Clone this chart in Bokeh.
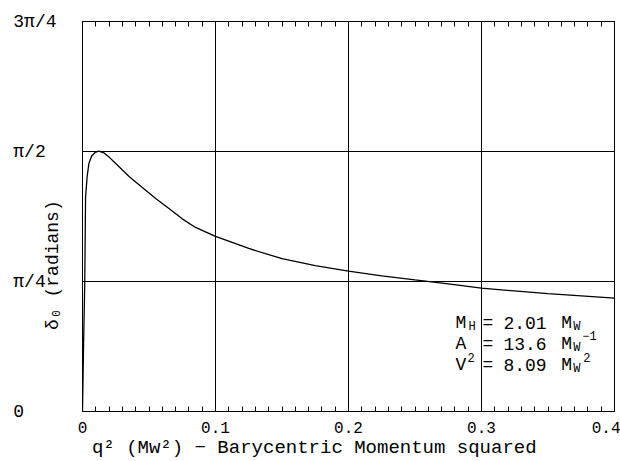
import numpy as np
from bokeh.plotting import figure
from bokeh.models import FixedTicker, LinearAxis, Label, Range1d
from bokeh.embed import file_html
from bokeh.resources import INLINE

PI = np.pi
NB = "\u00a0"

# ---- data ----
q2 = [0.0, 0.0008, 0.0017, 0.0023, 0.0035, 0.0048, 0.0070, 0.0095, 0.0123,
      0.0160, 0.0200, 0.0250, 0.0350, 0.0450, 0.0550, 0.0650, 0.0750, 0.0850,
      0.1000, 0.1250, 0.1500, 0.1750, 0.2000, 0.2250, 0.2500, 0.2750, 0.3000,
      0.3500, 0.4000]
delta0 = [0.0, 0.40, 0.785, 1.295, 1.420, 1.498, 1.545, 1.565, 1.573,
          1.563, 1.537, 1.498, 1.420, 1.353, 1.287, 1.226, 1.164, 1.112,
          1.058, 0.985, 0.923, 0.881, 0.848, 0.820, 0.795, 0.771, 0.745,
          0.712, 0.685]

x_ticks = [0.0, 0.1, 0.2, 0.3, 0.4]
x_tick_labels = ["0", "0.1", "0.2", "0.3", "0.4"]
x_minor = [0.00, 0.01, 0.02, 0.03, 0.04, 0.05, 0.06, 0.07, 0.08, 0.09,
           0.10, 0.11, 0.12, 0.13, 0.14, 0.15, 0.16, 0.17, 0.18, 0.19,
           0.20, 0.21, 0.22, 0.23, 0.24, 0.25, 0.26, 0.27, 0.28, 0.29,
           0.30, 0.31, 0.32, 0.33, 0.34, 0.35, 0.36, 0.37, 0.38, 0.39, 0.40]
y_ticks = [0.0, PI / 4, PI / 2, 3 * PI / 4]
y_tick_labels = ["0", "\u03c0/4", "\u03c0/2", "3\u03c0/4"]
grid_x = [0.1, 0.2, 0.3]
grid_y = [PI / 4, PI / 2]

x_title = "q\u00b2 (M\u1d21\u00b2) \u2212 Barycentric Momentum squared"
y_title = "\u03b4\u2080 (radians)"

FONT = "Liberation Mono"

p = figure(width=620, height=461,
           x_range=Range1d(0, 0.4), y_range=Range1d(0, 3 * PI / 4),
           output_backend="svg", toolbar_location=None,
           min_border_left=82, min_border_right=6,
           min_border_top=21, min_border_bottom=50,
           background_fill_color="white", border_fill_color="white",
           outline_line_color="black", outline_line_width=1)

p.line(q2, delta0, line_color="black", line_width=1.3)

# grid
p.xgrid.ticker = FixedTicker(ticks=grid_x)
p.ygrid.ticker = FixedTicker(ticks=grid_y)
for g in (p.xgrid, p.ygrid):
    g.grid_line_color = "black"
    g.grid_line_alpha = 1.0
    g.grid_line_width = 1

# bottom axis
xa = p.xaxis[0]
xa.ticker = FixedTicker(ticks=x_ticks, minor_ticks=x_minor)
xa.major_label_overrides = {t: s for t, s in zip(x_ticks, x_tick_labels)}
xa.axis_line_color = None
xa.major_tick_in = 6
xa.major_tick_out = 0
xa.minor_tick_in = 5
xa.minor_tick_out = 0
xa.major_tick_line_color = "black"
xa.minor_tick_line_color = "black"
xa.major_label_standoff = 10
xa.major_label_text_font = FONT
xa.major_label_text_font_size = "16px"
xa.major_label_text_color = "black"
xa.axis_label = x_title + NB * 6
xa.axis_label_standoff = 1
xa.axis_label_text_font = FONT
xa.axis_label_text_font_size = "19px"
xa.axis_label_text_font_style = "normal"
xa.axis_label_text_color = "black"

# top axis (ticks only)
top = LinearAxis(ticker=FixedTicker(ticks=x_ticks, minor_ticks=x_minor),
                 major_label_overrides={t: "" for t in x_ticks},
                 major_label_text_font_size="0px", major_label_standoff=0,
                 axis_line_color=None, major_tick_in=6, major_tick_out=0,
                 minor_tick_in=5, minor_tick_out=0,
                 major_tick_line_color="black", minor_tick_line_color="black")
p.add_layout(top, "above")

# inner left axis: carries only the title
ya = p.yaxis[0]
ya.ticker = FixedTicker(ticks=y_ticks, minor_ticks=[])
ya.major_label_overrides = {t: "" for t in y_ticks}
ya.major_label_text_font_size = "0px"
ya.major_label_standoff = 0
ya.axis_line_color = None
ya.major_tick_in = 0
ya.major_tick_out = 0
ya.minor_tick_in = 0
ya.minor_tick_out = 0
ya.axis_label = y_title + NB * 9
ya.axis_label_standoff = 20
ya.axis_label_text_font = FONT
ya.axis_label_text_font_size = "18px"
ya.axis_label_text_font_style = "normal"
ya.axis_label_text_color = "black"

# outer left axis: carries the tick labels
yo = LinearAxis(ticker=FixedTicker(ticks=y_ticks, minor_ticks=[]),
                major_label_overrides={t: s.ljust(4, NB) for t, s in zip(y_ticks, y_tick_labels)},
                major_label_text_font=FONT, major_label_text_font_size="18px",
                major_label_text_color="black", major_label_standoff=-17,
                axis_line_color=None, major_tick_in=0, major_tick_out=0,
                minor_tick_in=0, minor_tick_out=0)
p.add_layout(yo, "left")


def put(x, y, text, size="18px", dx=0, dy=0):
    p.add_layout(Label(x=x, y=y, x_offset=dx, y_offset=dy, text=text,
                       text_font=FONT, text_font_size=size, text_color="black",
                       text_baseline="alphabetic"))


# parameter box
rows_y = [0.535, 0.408, 0.278]
X_SYM, X_EQ, X_VAL, X_UNIT = 0.2805, 0.3008, 0.3165, 0.3600
put(X_SYM, rows_y[0], "M")
put(X_SYM, rows_y[0], "H", size="12px", dx=13, dy=-4)
put(X_SYM, rows_y[1], "A")
put(X_SYM, rows_y[2], "V")
put(X_SYM, rows_y[2], "2", size="12px", dx=12, dy=8)
for ry, val in zip(rows_y, ["2.01", "13.6", "8.09"]):
    put(X_EQ, ry, "=")
    put(X_VAL, ry, val)
    put(X_UNIT, ry, "M")
    put(X_UNIT, ry, "W", size="12px", dx=12, dy=-4)
put(X_UNIT, rows_y[1], "\u22121", size="12px", dx=21, dy=8)
put(X_UNIT, rows_y[2], "2", size="12px", dx=22, dy=8)

open("out.html", "w").write(file_html(p, INLINE))
